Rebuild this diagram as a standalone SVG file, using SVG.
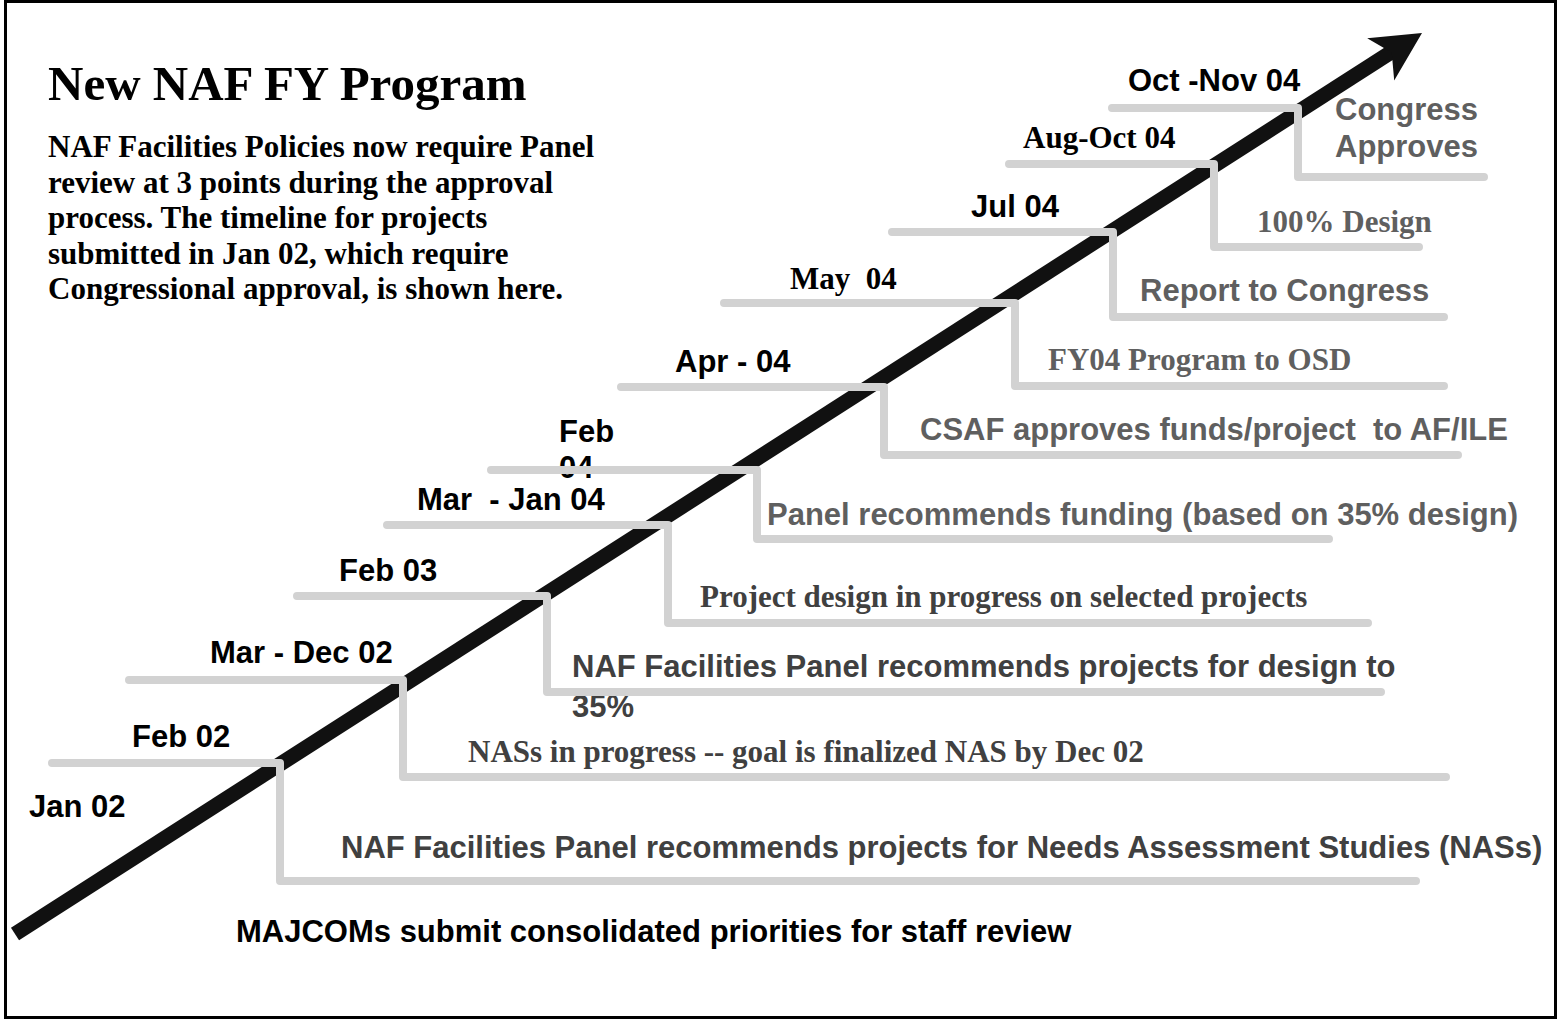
<svg xmlns="http://www.w3.org/2000/svg" width="1564" height="1021" viewBox="0 0 1564 1021">
<style>
.frame{fill:none;stroke:#000;stroke-width:3}
.step{fill:none;stroke:#d2d2d2;stroke-width:8;stroke-linecap:round;stroke-linejoin:round}
.sans{font-family:"Liberation Sans",Arial,sans-serif;font-weight:bold;font-size:31px}
.serif{font-family:"Liberation Serif","Times New Roman",serif;font-weight:bold;font-size:31px}
.title{font-family:"Liberation Serif","Times New Roman",serif;font-weight:bold;font-size:49px;fill:#000}
.date{fill:#000}
.dark{fill:#404040}
.mid{fill:#5f5f5f}
</style>
<rect class="frame" x="5.5" y="1.5" width="1550" height="1016"/>
<g id="timeline-arrow">
  <line x1="15" y1="934" x2="1393" y2="51" stroke="#111" stroke-width="15" stroke-linecap="butt"/>
  <polygon points="1422,33 1367.2,38.3 1391.7,52.4 1394.2,80.5" fill="#111"/>
</g>
<g id="header">
  <text class="title" x="48" y="100">New NAF FY Program</text>
  <text class="serif date" x="48" y="157">NAF Facilities Policies now require Panel</text>
  <text class="serif date" x="48" y="192.5">review at 3 points during the approval</text>
  <text class="serif date" x="48" y="228">process. The timeline for projects</text>
  <text class="serif date" x="48" y="263.5">submitted in Jan 02, which require</text>
  <text class="serif date" x="48" y="299">Congressional approval, is shown here.</text>
</g>
<g id="node-jan02">
  <text class="sans date" x="29" y="817">Jan 02</text>
  <text class="sans date" x="236" y="942">MAJCOMs submit consolidated priorities for staff review</text>
</g>
<g id="node-feb02">
  <text class="sans date" x="132" y="747">Feb 02</text>
  <text class="sans dark" x="341" y="858">NAF Facilities Panel recommends projects for Needs Assessment Studies (NASs)</text>
</g>
<g id="node-mar-dec02">
  <text class="sans date" x="210" y="663">Mar - Dec 02</text>
  <text class="serif dark" x="468" y="762">NASs in progress -- goal is finalized NAS by Dec 02</text>
</g>
<g id="node-feb03">
  <text class="sans date" x="339" y="581">Feb 03</text>
  <text class="sans dark" x="572" y="677">NAF Facilities Panel recommends projects for design to</text>
  <text class="sans dark" x="572" y="717">35%</text>
</g>
<g id="node-mar-jan04">
  <text class="sans date" x="417" y="510" xml:space="preserve">Mar  - Jan 04</text>
  <text class="serif dark" x="700" y="607">Project design in progress on selected projects</text>
</g>
<g id="node-feb04">
  <text class="sans date" x="559" y="442">Feb<tspan x="559" y="478">04</tspan></text>
  <text class="sans mid" x="767" y="525">Panel recommends funding (based on 35% design)</text>
</g>
<g id="node-apr04">
  <text class="sans date" x="675" y="372">Apr - 04</text>
  <text class="sans mid" x="920" y="440" xml:space="preserve">CSAF approves funds/project  to AF/ILE</text>
</g>
<g id="node-may04">
  <text class="serif date" x="790" y="289" xml:space="preserve">May  04</text>
  <text class="serif mid" x="1048" y="370">FY04 Program to OSD</text>
</g>
<g id="node-jul04">
  <text class="sans date" x="971" y="217">Jul 04</text>
  <text class="sans mid" x="1140" y="301">Report to Congress</text>
</g>
<g id="node-aug-oct04">
  <text class="serif date" x="1023" y="148">Aug-Oct 04</text>
  <text class="serif mid" x="1257" y="232">100% Design</text>
</g>
<g id="node-oct-nov04">
  <text class="sans date" x="1128" y="91">Oct -Nov 04</text>
  <text class="sans mid" x="1335" y="120">Congress</text>
  <text class="sans mid" x="1335" y="157">Approves</text>
</g>
<g id="connectors">
  <path class="step" d="M52,763 H280 V881 H1416"/>
  <path class="step" d="M129,680 H403 V777 H1446"/>
  <path class="step" d="M297,596 H547 V692 H1381"/>
  <path class="step" d="M387,525 H668 V623 H1368"/>
  <path class="step" d="M491,470 H757 V539 H1329"/>
  <path class="step" d="M621,387 H884 V455 H1458"/>
  <path class="step" d="M724,303 H1015 V386 H1444"/>
  <path class="step" d="M892,232 H1113 V317 H1444"/>
  <path class="step" d="M1009,164 H1214 V247 H1419"/>
  <path class="step" d="M1112,108 H1298 V177 H1484"/>
</g>
</svg>
